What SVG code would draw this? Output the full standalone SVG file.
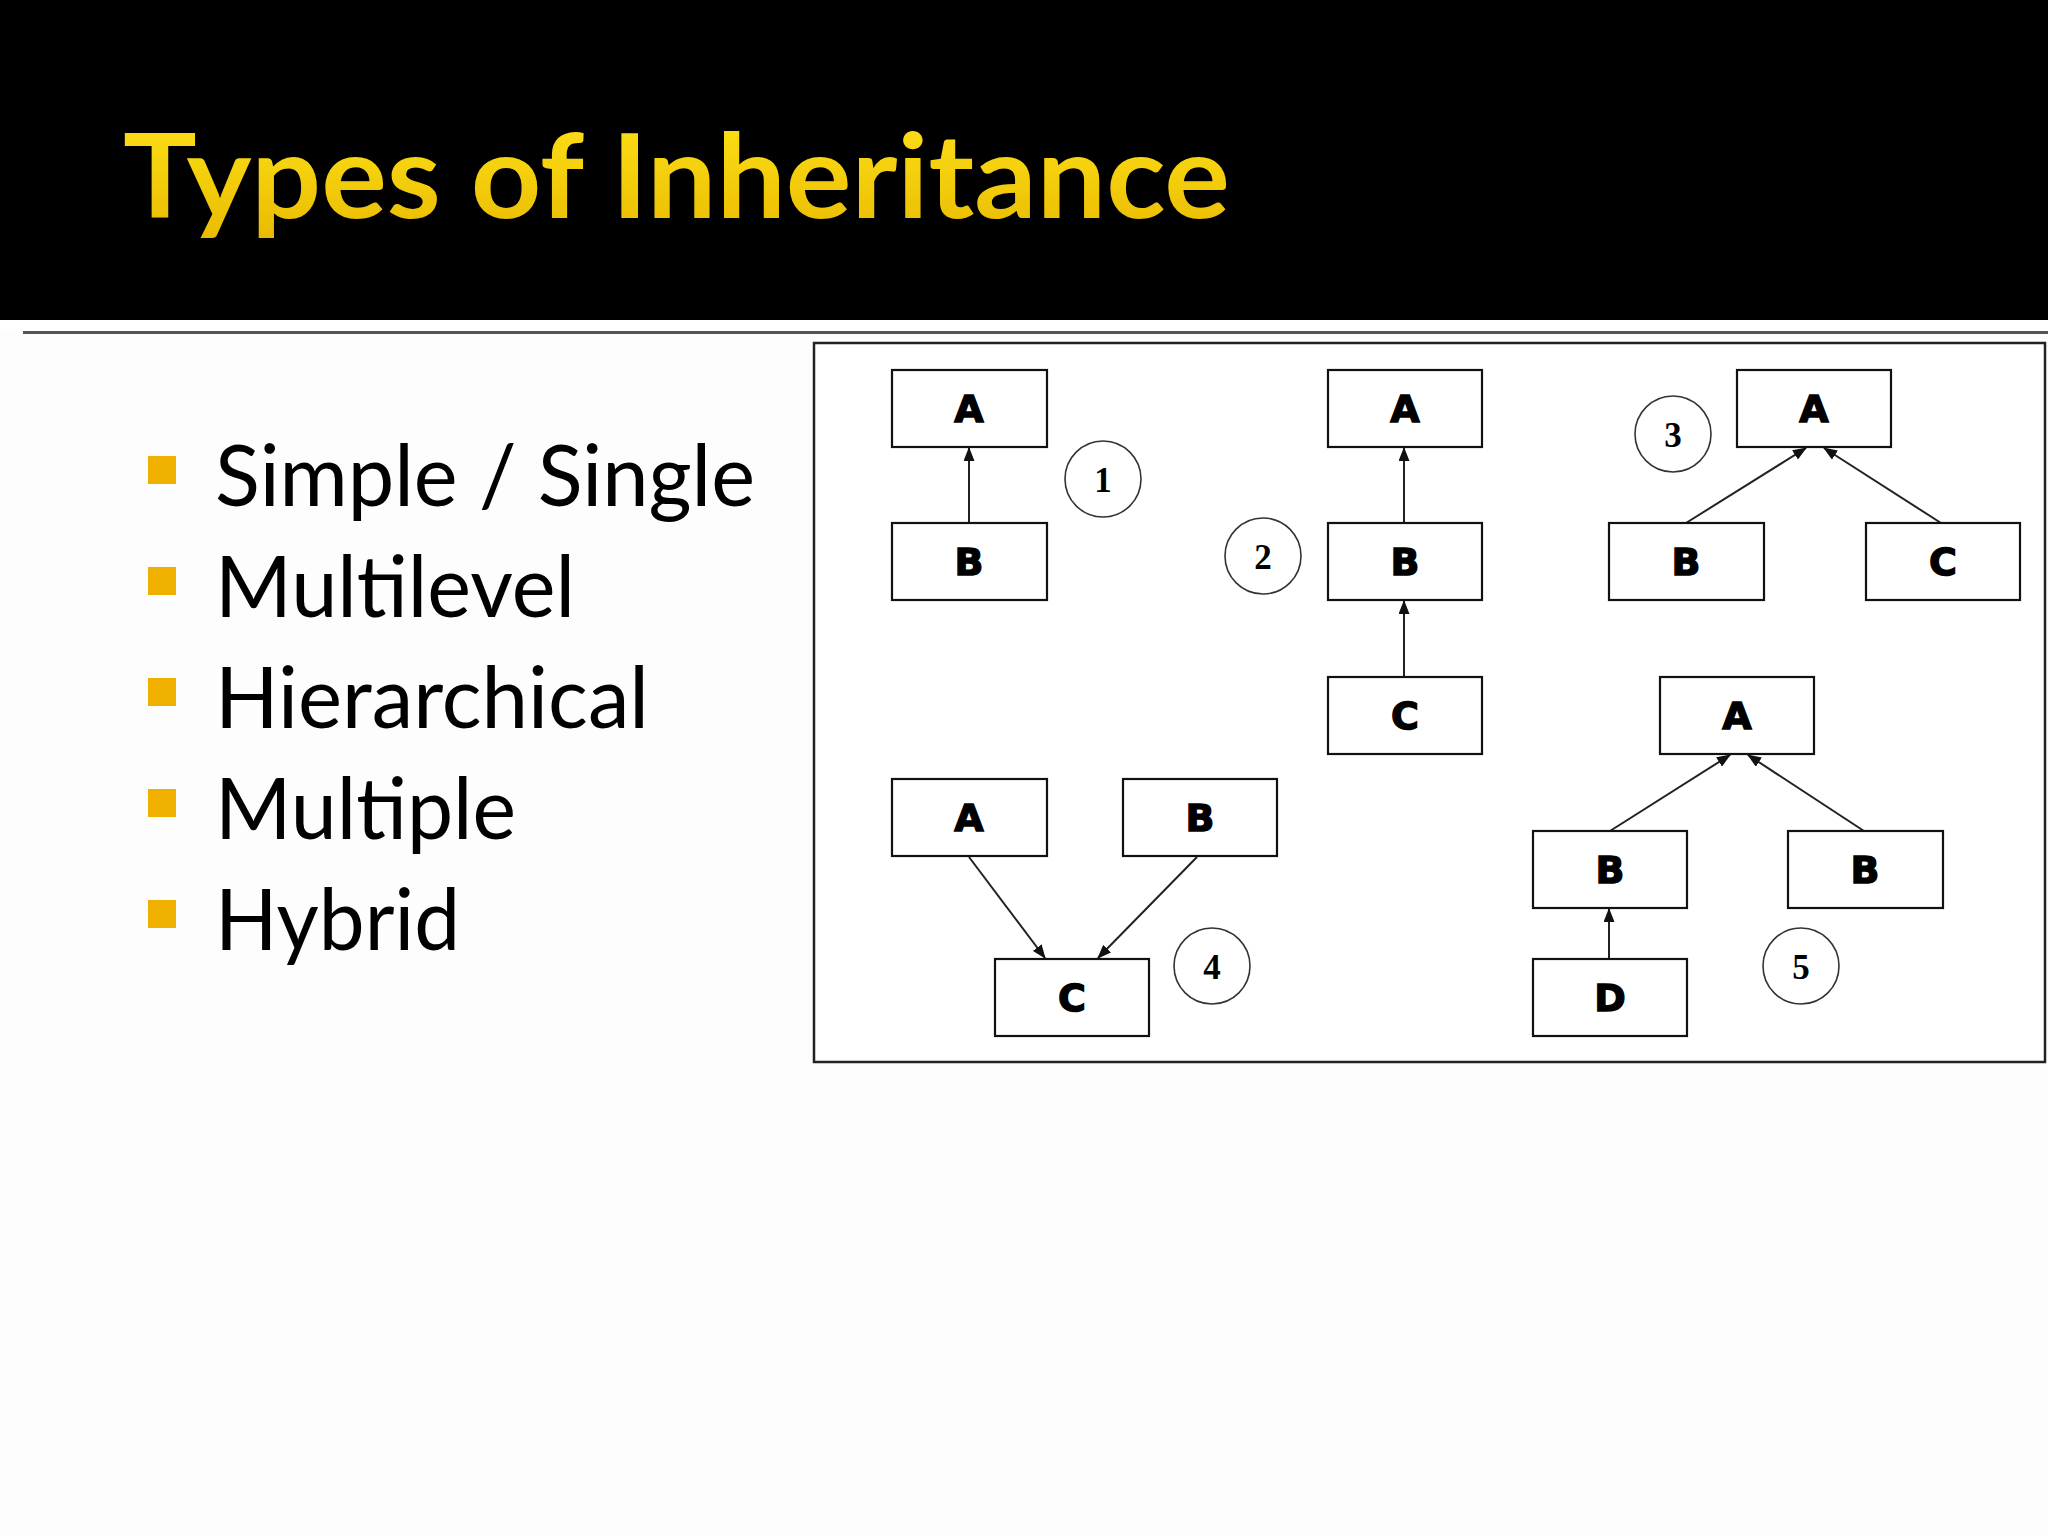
<svg xmlns="http://www.w3.org/2000/svg" width="2048" height="1536" viewBox="0 0 2048 1536">
<defs>
<linearGradient id="tg" x1="0" y1="0" x2="0" y2="1">
<stop offset="0" stop-color="#FFE41A"/>
<stop offset="1" stop-color="#E9BA00"/>
</linearGradient>
<marker id="arr" markerUnits="userSpaceOnUse" markerWidth="14" markerHeight="11" refX="13" refY="5.5" orient="auto">
<path d="M0,0 L14,5.5 L0,11 z" fill="#111"/>
</marker>
<style>
.bx{fill:#fff;stroke:#111;stroke-width:2.2}
.lb{font-family:"DejaVu Sans",sans-serif;font-weight:bold;font-size:38px;fill:#000;stroke:#000;stroke-width:1.4;text-anchor:middle}
.ci{fill:none;stroke:#333;stroke-width:1.6}
.nm{font-family:"Liberation Serif",serif;font-weight:bold;font-size:35px;fill:#000;text-anchor:middle}
.cn{stroke:#222;stroke-width:2;fill:none;marker-end:url(#arr)}
.bt{font-family:Lato,"Open Sans",sans-serif;font-size:86px;fill:#000}
.bs{fill:#F0B000}
</style>
</defs>
<rect x="0" y="0" width="2048" height="1536" fill="#FDFDFD"/>
<rect x="0" y="0" width="2048" height="320" fill="#000"/>
<rect x="0" y="320" width="2048" height="10" fill="#fff"/>
<rect x="23" y="331" width="2025" height="3" fill="#555"/>
<text x="123" y="218" font-family="Lato,'Open Sans',sans-serif" font-weight="bold" font-size="116" fill="url(#tg)" textLength="1107" lengthAdjust="spacingAndGlyphs">Types of Inheritance</text>

<g id="bullets">
<rect class="bs" x="148" y="456" width="28" height="28"/>
<text class="bt" x="215" y="506" textLength="540" lengthAdjust="spacingAndGlyphs">Simple / Single</text>
<rect class="bs" x="148" y="567" width="28" height="28"/>
<text class="bt" x="215" y="617" textLength="360" lengthAdjust="spacingAndGlyphs">Multilevel</text>
<rect class="bs" x="148" y="678" width="28" height="28"/>
<text class="bt" x="215" y="728" textLength="434" lengthAdjust="spacingAndGlyphs">Hierarchical</text>
<rect class="bs" x="148" y="789" width="28" height="28"/>
<text class="bt" x="215" y="839" textLength="301" lengthAdjust="spacingAndGlyphs">Multiple</text>
<rect class="bs" x="148" y="900" width="28" height="28"/>
<text class="bt" x="215" y="950" textLength="245" lengthAdjust="spacingAndGlyphs">Hybrid</text>
</g>

<rect id="frame" x="814" y="343" width="1231" height="719" fill="#fff" stroke="#222" stroke-width="2.5"/>

<g id="connectors">
<line class="cn" x1="969" y1="523" x2="969" y2="448"/>
<line class="cn" x1="1404" y1="523" x2="1404" y2="448"/>
<line class="cn" x1="1404" y1="677" x2="1404" y2="601"/>
<line class="cn" x1="1686" y1="523" x2="1806" y2="448"/>
<line class="cn" x1="1941" y1="523" x2="1824" y2="448"/>
<line class="cn" x1="969" y1="857" x2="1045" y2="958"/>
<line class="cn" x1="1197" y1="857" x2="1098" y2="958"/>
<line class="cn" x1="1610" y1="831" x2="1730" y2="755"/>
<line class="cn" x1="1864" y1="831" x2="1748" y2="755"/>
<line class="cn" x1="1609" y1="959" x2="1609" y2="909"/>
</g>

<g id="n1A"><rect class="bx" x="892" y="370" width="155" height="77"/><text class="lb" x="969" y="422">A</text></g>
<g id="n1B"><rect class="bx" x="892" y="523" width="155" height="77"/><text class="lb" x="969" y="575">B</text></g>
<g id="c1"><circle class="ci" cx="1103" cy="479" r="38"/><text class="nm" x="1103" y="492">1</text></g>

<g id="n2A"><rect class="bx" x="1328" y="370" width="154" height="77"/><text class="lb" x="1405" y="422">A</text></g>
<g id="n2B"><rect class="bx" x="1328" y="523" width="154" height="77"/><text class="lb" x="1405" y="575">B</text></g>
<g id="n2C"><rect class="bx" x="1328" y="677" width="154" height="77"/><text class="lb" x="1405" y="729">C</text></g>
<g id="c2"><circle class="ci" cx="1263" cy="556" r="38"/><text class="nm" x="1263" y="569">2</text></g>

<g id="n3A"><rect class="bx" x="1737" y="370" width="154" height="77"/><text class="lb" x="1814" y="422">A</text></g>
<g id="n3B"><rect class="bx" x="1609" y="523" width="155" height="77"/><text class="lb" x="1686" y="575">B</text></g>
<g id="n3C"><rect class="bx" x="1866" y="523" width="154" height="77"/><text class="lb" x="1943" y="575">C</text></g>
<g id="c3"><circle class="ci" cx="1673" cy="434" r="38"/><text class="nm" x="1673" y="447">3</text></g>

<g id="n4A"><rect class="bx" x="892" y="779" width="155" height="77"/><text class="lb" x="969" y="831">A</text></g>
<g id="n4B"><rect class="bx" x="1123" y="779" width="154" height="77"/><text class="lb" x="1200" y="831">B</text></g>
<g id="n4C"><rect class="bx" x="995" y="959" width="154" height="77"/><text class="lb" x="1072" y="1011">C</text></g>
<g id="c4"><circle class="ci" cx="1212" cy="966" r="38"/><text class="nm" x="1212" y="979">4</text></g>

<g id="n5A"><rect class="bx" x="1660" y="677" width="154" height="77"/><text class="lb" x="1737" y="729">A</text></g>
<g id="n5B1"><rect class="bx" x="1533" y="831" width="154" height="77"/><text class="lb" x="1610" y="883">B</text></g>
<g id="n5B2"><rect class="bx" x="1788" y="831" width="155" height="77"/><text class="lb" x="1865" y="883">B</text></g>
<g id="n5D"><rect class="bx" x="1533" y="959" width="154" height="77"/><text class="lb" x="1610" y="1011">D</text></g>
<g id="c5"><circle class="ci" cx="1801" cy="966" r="38"/><text class="nm" x="1801" y="979">5</text></g>
</svg>
